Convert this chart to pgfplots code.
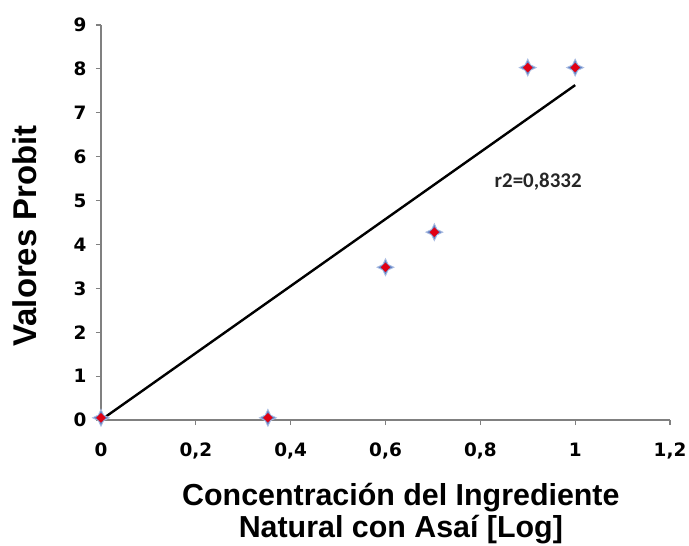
\documentclass[border=0pt]{standalone}
\usepackage{pgfplots}
\pgfplotsset{compat=1.18}
\usepackage{fontspec}
\setmainfont{Liberation Sans}
\newfontfamily\calib{Carlito}
\newfontfamily\dejavu{DejaVu Sans}
\definecolor{axgray}{RGB}{128,128,128}
\definecolor{mkred}{RGB}{225,0,20}
\definecolor{mkblue}{RGB}{70,110,190}
\pgfdeclareplotmark{star4}{%
  \pgfpathmoveto{\pgfqpoint{0pt}{\pgfplotmarksize}}%
  \pgfpathlineto{\pgfqpoint{0.32\pgfplotmarksize}{0.32\pgfplotmarksize}}%
  \pgfpathlineto{\pgfqpoint{\pgfplotmarksize}{0pt}}%
  \pgfpathlineto{\pgfqpoint{0.32\pgfplotmarksize}{-0.32\pgfplotmarksize}}%
  \pgfpathlineto{\pgfqpoint{0pt}{-\pgfplotmarksize}}%
  \pgfpathlineto{\pgfqpoint{-0.32\pgfplotmarksize}{-0.32\pgfplotmarksize}}%
  \pgfpathlineto{\pgfqpoint{-\pgfplotmarksize}{0pt}}%
  \pgfpathlineto{\pgfqpoint{-0.32\pgfplotmarksize}{0.32\pgfplotmarksize}}%
  \pgfpathclose
  \pgfusepathqfillstroke}
\pgfdeclareplotmark{dia4}{%
  \pgfpathmoveto{\pgfqpoint{0pt}{\pgfplotmarksize}}%
  \pgfpathlineto{\pgfqpoint{\pgfplotmarksize}{0pt}}%
  \pgfpathlineto{\pgfqpoint{0pt}{-\pgfplotmarksize}}%
  \pgfpathlineto{\pgfqpoint{-\pgfplotmarksize}{0pt}}%
  \pgfpathclose
  \pgfusepathqfillstroke}
\begin{document}
\begin{tikzpicture}
\begin{axis}[
  scale only axis,
  width=569bp, height=395bp,
  xmin=0, xmax=1.2, ymin=0, ymax=9,
  xtick={0,0.2,...,1.2}, ytick={0,1,...,9},
  axis lines=left,
  axis line style={-, axgray, line width=1.6bp},
  tick style={axgray, line width=1.2bp},
  tick align=outside,
  major tick length=5bp,
  minor tick num=0,
  clip=false,
  /pgf/number format/use comma,
  /pgf/number format/assume math mode=true,
  tick label style={font=\dejavu\fontsize{18.5}{20}\selectfont\bfseries},
  xticklabel style={yshift=-14bp, text height=13.5bp, text depth=3bp},
  yticklabel style={xshift=-6bp},
  xlabel={Concentración del Ingrediente\\Natural con Asaí [Log]},
  xlabel style={at={(axis description cs:0.527,-0.237)}, anchor=center, align=center,
    font=\fontsize{30.5}{33}\selectfont\bfseries},
  ylabel={Valores Probit},
  ylabel style={at={(axis description cs:-0.134,0.466)}, anchor=center,
    font=\fontsize{33}{36}\selectfont\bfseries},
]
\addplot[black, line width=2.4bp] coordinates {(0,0) (1,7.63)};
\addplot[only marks, mark=star4, mark size=8.5bp,
  mark options={fill=mkblue!85, draw=mkblue!45, line width=0.8bp}]
  coordinates {(0,0.05) (0.352,0.05) (0.6,3.48) (0.703,4.28) (0.9,8.03) (1.0,8.03)};
\addplot[only marks, mark=dia4, mark size=4.5bp,
  mark options={fill=mkred, draw=mkred, line width=0.3bp}]
  coordinates {(0,0.05) (0.352,0.05) (0.6,3.48) (0.703,4.28) (0.9,8.03) (1.0,8.03)};
\node[font=\calib\fontsize{21}{23}\selectfont\bfseries, text=black!85] at (axis cs:0.922,5.42) {r2=0,8332};
\end{axis}
\pgfresetboundingbox
\path (-101bp,-126bp) rectangle (588bp,420bp);
\end{tikzpicture}
\end{document}
